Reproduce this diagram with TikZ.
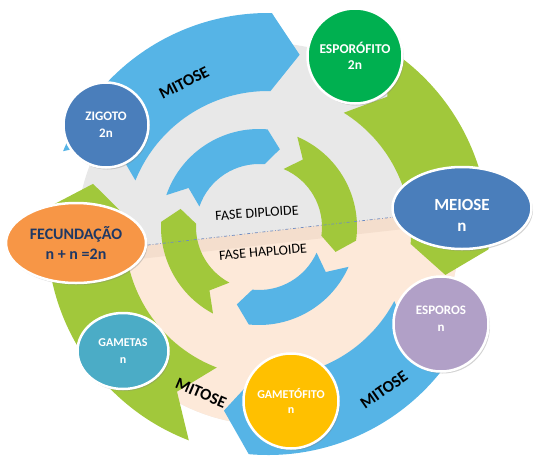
\documentclass[tikz,border=0pt]{standalone}
\usepackage{fontspec}
\setmainfont{Carlito}
\usetikzlibrary{shapes.geometric,shadows}

\definecolor{ringblue}{RGB}{86,180,230}
\definecolor{ringgreen}{RGB}{161,200,59}
\definecolor{diplgray}{RGB}{232,232,232}
\definecolor{haplbeige}{RGB}{253,233,217}
\definecolor{haplband}{RGB}{244,222,205}
\definecolor{zigblue}{RGB}{74,126,187}
\definecolor{espgreen}{RGB}{0,176,80}
\definecolor{sporpurple}{RGB}{177,160,199}
\definecolor{gamyellow}{RGB}{255,192,0}
\definecolor{gamteal}{RGB}{75,172,198}
\definecolor{fecorange}{RGB}{247,150,70}
\definecolor{fectext}{RGB}{31,56,100}
\definecolor{splitline}{RGB}{110,140,195}

\newcommand{\cyclearrow}[6]{%
  \fill[#1] (#4:#3) arc[start angle=#4, end angle=#5+#6, radius=#3]
    -- (#5:{(#2+#3)/2}) -- (#5+#6:#2)
    arc[start angle=#5+#6, end angle=#4, radius=#2]
    -- (#4-#6:{(#2+#3)/2}) -- cycle;}

\begin{document}
\begin{tikzpicture}[x=1pt, y=1pt,
  stage/.style={draw=white, line width=2.5pt, text=white, align=center, inner sep=0pt,
    drop shadow={opacity=0.35, shadow xshift=1.5pt, shadow yshift=-2pt}},
  mitose/.style={font=\bfseries\fontsize{16.5}{17}\selectfont},
  fase/.style={font=\fontsize{14}{14}\selectfont}]
  \useasboundingbox (0,0) rectangle (548,-461);

  \begin{scope}[shift={(268,-234)}]
    \clip (0,0) circle[radius=191];
    \fill[diplgray] (-200,-200) rectangle (200,200);
    \fill[haplbeige] (-200,-20.1) -- (200,25.3) -- (200,-200) -- (-200,-200) -- cycle;
    \fill[haplband] (-200,-20.1) -- (200,25.3) -- (200,12.3) -- (-200,-33.1) -- cycle;
  \end{scope}

  \begin{scope}[shift={(268,-234)}]
    \cyclearrow{ringblue}{143}{221}{158}{80}{9}
    \cyclearrow{ringgreen}{143}{221}{58}{-13}{9}
    \cyclearrow{ringblue}{143}{221}{-28}{-104}{9}
    \cyclearrow{ringgreen}{143}{221}{-111}{-196}{9}
  \end{scope}

  \begin{scope}[shift={(259,-227)}]
    \cyclearrow{ringblue}{63}{98}{161}{75}{10}
    \cyclearrow{ringgreen}{63}{98}{67}{-18}{10}
    \cyclearrow{ringblue}{63}{98}{-24}{-106}{10}
    \cyclearrow{ringgreen}{63}{98}{-118}{-193}{10}
  \end{scope}

  \coordinate (splitW) at (140,-245.9);
  \coordinate (splitE) at (400,-216.4);
  \draw[splitline, line width=0.7pt, dash dot] (splitW) -- (splitE);

  \node[fase, rotate=4] (diploid) at (257,-213) {FASE DIPLOIDE};
  \node[fase, rotate=5] (haploid) at (263,-252) {FASE HAPLOIDE};

  \node[mitose, rotate=27] (mitTop) at (184,-83) {MITOSE};
  \node[mitose, rotate=35] (mitRight) at (384,-390) {MITOSE};
  \node[mitose, rotate=-23] (mitLeft) at (201,-393) {MITOSE};

  \node[stage, circle, minimum size=85pt, fill=zigblue, font=\bfseries\fontsize{13}{17}\selectfont] (zigoto) at (106,-125) {ZIGOTO\\2n};
  \node[stage, circle, minimum size=95pt, fill=espgreen, font=\bfseries\fontsize{13.5}{15.5}\selectfont] (esporofito) at (355,-56) {ESPORÓFITO\\2n};
  \node[stage, ellipse, minimum width=139pt, minimum height=82pt, fill=zigblue, font=\bfseries\fontsize{17}{21}\selectfont] (meiose) at (462,-208) {\rule{0pt}{25pt}MEIOSE\\n};
  \node[stage, circle, minimum size=95pt, fill=sporpurple, font=\bfseries\fontsize{13}{17}\selectfont] (esporos) at (441,-324) {ESPOROS\\n\rule[-10pt]{0pt}{10pt}};
  \node[stage, circle, minimum size=95pt, fill=gamyellow, font=\bfseries\fontsize{12}{15}\selectfont] (gametofito) at (291,-401) {GAMETÓFITO\\n};
  \node[stage, ellipse, minimum width=91pt, minimum height=76pt, fill=gamteal, font=\bfseries\fontsize{12}{17}\selectfont] (gametas) at (123,-351) {GAMETAS\\n};
  \node[stage, ellipse, minimum width=140pt, minimum height=80pt, fill=fecorange, text=fectext, font=\bfseries\fontsize{16}{20}\selectfont] (fecundacao) at (76,-243) {FECUNDAÇÃO\\n + n =2n};
\end{tikzpicture}
\end{document}
